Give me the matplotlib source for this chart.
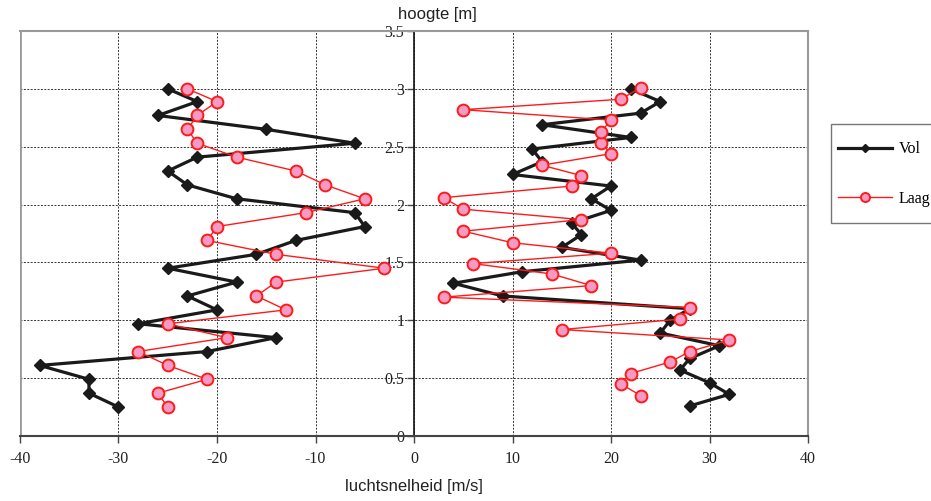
"""luchtsnelheid profiel: vol vs laag"""

import matplotlib
matplotlib.use("Agg")
import matplotlib.pyplot as plt
from matplotlib.ticker import FuncFormatter
from matplotlib.lines import Line2D
from matplotlib.patches import Rectangle

plt.rcParams['axes.unicode_minus'] = False

# left side (negative speeds)
h_left = [0.25, 0.37, 0.49, 0.61, 0.73, 0.85, 0.97, 1.09, 1.21, 1.33, 1.45, 1.57,
          1.69, 1.81, 1.93, 2.05, 2.17, 2.29, 2.41, 2.53, 2.65, 2.77, 2.89, 3.00]
vol_left = [-30, -33, -33, -38, -21, -14, -28, -20, -23, -18, -25, -16,
            -12, -5, -6, -18, -23, -25, -22, -6, -15, -26, -22, -25]
laag_left = [-25, -26, -21, -25, -28, -19, -25, -13, -16, -14, -3, -14,
             -21, -20, -11, -5, -9, -12, -18, -22, -23, -22, -20, -23]

# right side (positive speeds)
h_vol_right = [0.26, 0.36, 0.46, 0.57, 0.67, 0.78, 0.89, 1.00, 1.10, 1.21, 1.32, 1.42,
               1.52, 1.63, 1.74, 1.84, 1.95, 2.05, 2.16, 2.26, 2.37, 2.48, 2.58, 2.69,
               2.79, 2.89, 3.00]
vol_right = [28, 32, 30, 27, 28, 31, 25, 26, 28, 9, 4, 11,
             23, 15, 17, 16, 20, 18, 20, 10, 13, 12, 22, 13,
             23, 25, 22]
h_laag_right = [0.35, 0.45, 0.54, 0.64, 0.73, 0.83, 0.92, 1.01, 1.11, 1.20, 1.30, 1.40,
                1.49, 1.58, 1.67, 1.77, 1.87, 1.96, 2.06, 2.16, 2.25, 2.34, 2.44, 2.53,
                2.63, 2.73, 2.82, 2.91, 3.01]
laag_right = [23, 21, 22, 26, 28, 32, 15, 27, 28, 3, 18, 14,
              6, 20, 10, 5, 17, 5, 3, 16, 17, 13, 20, 19,
              19, 20, 5, 21, 23]

serif = ['Liberation Serif', 'DejaVu Serif']
narrow = ['Liberation Sans Narrow', 'Liberation Sans', 'DejaVu Sans']

vol_style = dict(color='#1a1a1a', lw=2.3, marker='D', ms=6.4, zorder=3)
laag_style = dict(color='#ff1a1a', lw=1.0, marker='o', ms=8.5, mfc='#f59ac3',
                  mec='#ff1a1a', mew=1.4, zorder=4)

fig = plt.figure(figsize=(9.31, 5.01), dpi=100)
ax = fig.add_axes([20/931, 65/501, 788/931, 405/501])

ax.plot(vol_left, h_left, **vol_style)
ax.plot(laag_left, h_left, **laag_style)
ax.plot(vol_right, h_vol_right, **vol_style)
ax.plot(laag_right, h_laag_right, **laag_style)

ax.set_xlim(-40, 40)
ax.set_ylim(0, 3.5)
ax.set_xticks(range(-40, 41, 10))
ax.set_yticks([0, 0.5, 1, 1.5, 2, 2.5, 3, 3.5])
ax.yaxis.set_major_formatter(FuncFormatter(lambda v, p: '%g' % v))

ax.grid(True, color='#333333', lw=0.7, linestyle=(0, (2, 1.5)))
ax.set_axisbelow(True)

# y axis drawn through x = 0
ax.spines['left'].set_position(('data', 0))
ax.spines['left'].set_color('#111111')
ax.spines['left'].set_linewidth(1.2)
ax.spines['bottom'].set_color('#444444')
ax.spines['bottom'].set_linewidth(1.5)
for s in ['top', 'right']:
    ax.spines[s].set_color('#999999')
    ax.spines[s].set_linewidth(1.5)
ax.axvline(-40, color='#999999', lw=2, zorder=1)

ax.tick_params(axis='both', direction='out', length=5, width=1, color='#444444',
               labelsize=11.5)
for lab in ax.get_xticklabels() + ax.get_yticklabels():
    lab.set_family(serif)
    lab.set_color('#222222')
ax.tick_params(axis='x', pad=6)
ax.tick_params(axis='y', pad=2)

fig.text(398/931, 1 - 14/501, 'hoogte [m]', family=narrow, fontsize=12,
         ha='left', va='center', color='#222222')
fig.text(414/931, 1 - 487/501, 'luchtsnelheid [m/s]', family=narrow, fontsize=12,
         ha='center', va='center', color='#222222')

# legend box, drawn on its own so it can run to the right edge
fig.patches.append(Rectangle((831/931, 1 - 223/501), 110/931, 99/501,
                             transform=fig.transFigure, fill=False,
                             edgecolor='#777777', lw=1.0))
handles = [Line2D([], [], color='#1a1a1a', lw=2.3, marker='D', ms=4.5),
           Line2D([], [], color='#ff1a1a', lw=1.0, marker='o', ms=6.5, mfc='#f59ac3',
                  mec='#ff1a1a', mew=1.4)]
fig.legend(handles, ['Vol', 'Laag'], loc='center left',
           bbox_to_anchor=(831/931, 1 - 174/501), frameon=False,
           prop={'family': serif, 'size': 11.5}, handlelength=3.4,
           handletextpad=0.4, labelspacing=2.1, borderpad=0.45,
           borderaxespad=0)

fig.savefig('out.png', dpi=100)
